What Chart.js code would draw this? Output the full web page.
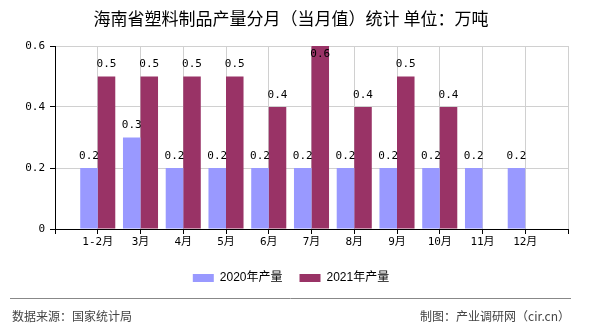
<!DOCTYPE html>
<html>
<head>
<meta charset="utf-8">
<script src="https://cdn.jsdelivr.net/npm/chart.js@4"></script>
<style>
  body { margin: 0; background: #fff; }
  #wrap { width: 590px; height: 330px; position: relative; }
</style>
</head>
<body>
<div id="wrap"><canvas id="chart"></canvas></div>
<script>
// Data
const months = ["1-2月", "3月", "4月", "5月", "6月", "7月", "8月", "9月", "10月", "11月", "12月"];
const output2020 = [0.2, 0.3, 0.2, 0.2, 0.2, 0.2, 0.2, 0.2, 0.2, 0.2, 0.2];
const output2021 = [0.5, 0.5, 0.5, 0.5, 0.4, 0.6, 0.4, 0.5, 0.4, null, null];
const yTicks = [0, 0.2, 0.4, 0.6];

// empty slot at each end so the groups sit on the tick lines
const labels = ["", ...months, ""];
const pad = (arr) => [null, ...arr, null];

const monoFont = "'DejaVu Sans Mono', 'Noto Sans CJK SC', monospace";

// value labels above the bars
const valueLabels = {
  id: "valueLabels",
  afterDatasetsDraw(chart) {
    const ctx = chart.ctx;
    const top = chart.chartArea.top;
    ctx.save();
    ctx.font = "11px " + monoFont;
    ctx.fillStyle = "#000";
    ctx.textAlign = "center";
    ctx.textBaseline = "middle";
    chart.data.datasets.forEach((ds, i) => {
      chart.getDatasetMeta(i).data.forEach((bar, j) => {
        const v = ds.data[j];
        if (v == null) return;
        const y = Math.max(bar.y - 12, top + 8);
        ctx.fillText(v.toFixed(1), bar.x, y);
      });
    });
    ctx.restore();
  },
};

// source line at the bottom
const footer = {
  id: "footer",
  afterDraw(chart) {
    const ctx = chart.ctx;
    ctx.save();
    ctx.strokeStyle = "#888";
    ctx.lineWidth = 1;
    ctx.beginPath();
    ctx.moveTo(10, 298.5);
    ctx.lineTo(571, 298.5);
    ctx.stroke();
    ctx.font = "12px 'Noto Sans CJK SC', sans-serif";
    ctx.fillStyle = "#444";
    ctx.textBaseline = "middle";
    ctx.textAlign = "left";
    ctx.fillText("数据来源：国家统计局", 12, 316);
    ctx.textAlign = "right";
    ctx.fillText("制图：产业调研网（cir.cn）", 570, 316);
    ctx.restore();
  },
};

new Chart(document.getElementById("chart"), {
  type: "bar",
  data: {
    labels,
    datasets: [
      {
        label: "2020年产量",
        data: pad(output2020),
        backgroundColor: "#9999FF",
        categoryPercentage: 0.82,
        barPercentage: 1,
      },
      {
        label: "2021年产量",
        data: pad(output2021),
        backgroundColor: "#993366",
        categoryPercentage: 0.82,
        barPercentage: 1,
      },
    ],
  },
  options: {
    responsive: true,
    maintainAspectRatio: false,
    animation: false,
    layout: { padding: { left: 14, right: 22, top: 0, bottom: 36 } },
    plugins: {
      tooltip: { enabled: false },
      title: {
        display: true,
        text: "海南省塑料制品产量分月（当月值）统计 单位：万吨",
        color: "#000",
        font: { family: "'Noto Sans CJK SC', sans-serif", size: 17, weight: "normal" },
        padding: { top: 8, bottom: 17.6 },
      },
      legend: {
        position: "bottom",
        labels: {
          boxWidth: 21,
          boxHeight: 8,
          padding: 17,
          color: "#000",
          font: { family: "'Liberation Sans', 'Noto Sans CJK SC', sans-serif", size: 12 },
        },
      },
    },
    scales: {
      x: {
        offset: false,
        grid: { offset: false, color: "#d0d0d0", tickColor: "#000", tickLength: 5 },
        border: { color: "#000" },
        ticks: {
          autoSkip: false,
          maxRotation: 0,
          padding: 2,
          color: "#000",
          font: { family: monoFont, size: 11 },
        },
        afterFit: (s) => { s.height = 26; },
      },
      y: {
        min: 0,
        max: 0.6,
        grid: { color: "#d0d0d0", tickColor: "#000", tickLength: 5 },
        border: { color: "#000" },
        afterBuildTicks: (s) => { s.ticks = yTicks.map((v) => ({ value: v })); },
        ticks: {
          padding: 5,
          color: "#000",
          font: { family: monoFont, size: 11 },
          callback: (v) => (v === 0 ? "0" : v.toFixed(1)),
        },
        afterFit: (s) => { s.width = 41; },
      },
    },
  },
  plugins: [valueLabels, footer],
});
</script>
</body>
</html>
